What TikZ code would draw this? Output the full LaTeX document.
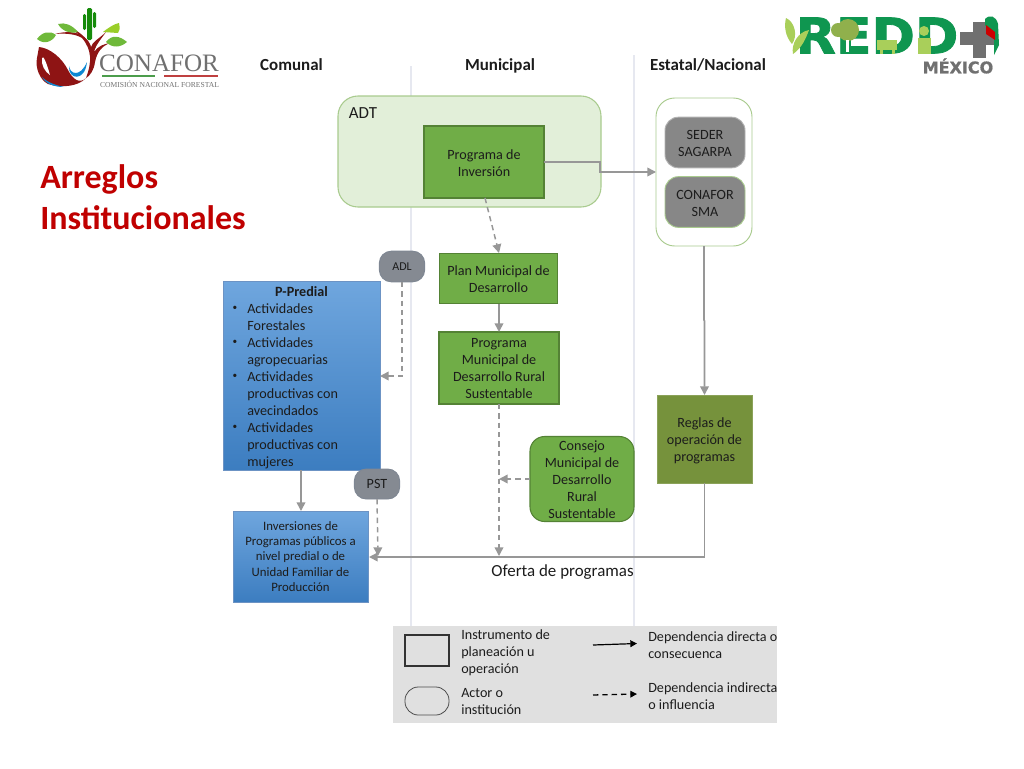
\documentclass[tikz,border=0pt]{standalone}
\usepackage{fontspec}
\setmainfont{Carlito}
\newfontfamily\logoserif{Liberation Serif}
\newfontfamily\logosans[FakeBold=1.6,FakeStretch=1.06]{DejaVu Sans Bold}
\newfontfamily\logosanb[FakeBold=1]{DejaVu Sans Bold}
\usetikzlibrary{arrows.meta,calc}
\newcommand{\lowr}[2][-1.5pt]{\raisebox{#1}[\height][\depth]{\setlength{\tabcolsep}{0pt}\begin{tabular}{c}#2\end{tabular}}}
\definecolor{grn}{HTML}{70AD47}
\definecolor{grnd}{HTML}{548235}
\definecolor{olv}{HTML}{76923C}
\definecolor{pale}{HTML}{E2EFD9}
\definecolor{paleb}{HTML}{A9CB8E}
\definecolor{actor}{HTML}{878787}
\definecolor{actorb}{HTML}{7F8793}
\definecolor{actorc}{HTML}{858A92}
\definecolor{conn}{HTML}{979797}
\definecolor{guide}{HTML}{E6E8F0}
\definecolor{legbg}{HTML}{E0E0E0}
\definecolor{rojo}{HTML}{C00000}
\definecolor{rdd}{HTML}{0F9650}
\definecolor{lim}{HTML}{A9CF5A}
\definecolor{gris}{HTML}{707070}
\definecolor{bluetop}{HTML}{6FA6DE}
\definecolor{bluebot}{HTML}{3C7DC0}
\definecolor{blueln}{HTML}{6C93C4}
\definecolor{leaf}{HTML}{6FB93A}
\definecolor{wine}{HTML}{8E1414}
\definecolor{tinta}{HTML}{1C1C1C}
\tikzset{
 x=0.75pt,y=-0.75pt,
 base/.style={inner sep=0pt,outer sep=0pt,align=center,font=\fontsize{10.6}{12.75}\selectfont,text=tinta},
 instr/.style={base,rectangle,draw=grnd,line width=.9pt,fill=grn},
 actorbox/.style={base,rectangle,rounded corners=10pt,draw=actorb,line width=.7pt,fill=actor},
 bluebox/.style={base,rectangle,draw=blueln,line width=.5pt,top color=bluetop,bottom color=bluebot},
 head/.style={font=\bfseries\fontsize{12.7}{14}\selectfont,text=tinta,inner sep=0pt,anchor=base},
 legtxt/.style={inner sep=0pt,align=left,anchor=north west,font=\fontsize{10.6}{12.75}\selectfont,text=tinta},
 solidc/.style={draw=conn,line width=1.2pt,-{Triangle[length=6.5pt,width=6.5pt]}},
 dashc/.style={draw=conn,line width=1.1pt,dash pattern=on 4pt off 3pt,-{Triangle[length=6.5pt,width=6.5pt]}},
 solidk/.style={draw=black,line width=.9pt,-{Triangle[length=5pt,width=5pt]}},
 dashk/.style={draw=black,line width=1pt,dash pattern=on 4pt off 3pt,-{Triangle[length=5pt,width=5pt]}},
}
\begin{document}
\begin{tikzpicture}
\useasboundingbox (0,0) rectangle (1024,768);
\fill[white] (0,0) rectangle (1024,768);
% guides
\draw[guide,line width=.8pt] (411,66) -- (411,626);
\draw[guide,line width=.8pt] (634,55) -- (634,626);
% CONAFOR logo
\fill[wine] (39,47) .. controls (50,48) and (62,58) .. (68,70) .. controls (73,80) and (80,84) .. (86,78) .. controls (78,87) and (60,88) .. (48,84) .. controls (40,80) and (35,68) .. (37,58) -- cycle;
\fill[white] (42,58) .. controls (43,54) and (47,64) .. (50,75) .. controls (45,72) and (41,65) .. (42,58) -- cycle;
\fill[wine] (86,78) .. controls (92,62) and (92,50) .. (82,38) .. controls (76,34) and (65,33) .. (55,34) .. controls (66,31) and (78,31) .. (85,38) .. controls (89,41) and (90,44) .. (91,47) .. controls (92,42) and (100,38) .. (106,32) .. controls (102,38) and (96,44) .. (94,52) .. controls (98,46) and (104,44) .. (110,43) .. controls (102,46) and (97,52) .. (95,62) .. controls (94,70) and (90,76) .. (86,78) -- cycle;
\draw[wine,line width=1.2pt] (70,28) .. controls (78,32) and (86,38) .. (90,46);
\fill[cyan!70!blue] (69,66) .. controls (70,74) and (80,78) .. (87,62) .. controls (85,82) and (68,80) .. (69,66) -- cycle;
\fill[cyan!70!blue] (42,77) .. controls (48,83) and (56,85) .. (64,87) .. controls (54,87) and (46,84) .. (42,77) -- cycle;
\fill[leaf] (37,39) .. controls (42,32) and (50,30) .. (56,35) .. controls (52,42) and (44,45) .. (37,39) -- cycle;
\fill[leaf] (58,24) .. controls (65,22) and (72,25) .. (78,32) .. controls (70,34) and (62,31) .. (58,24) -- cycle;
\fill[leaf] (106,42) .. controls (112,34) and (120,36) .. (127,42) .. controls (120,48) and (112,48) .. (106,42) -- cycle;
\fill[leaf!70!yellow] (103,32) .. controls (108,28) and (114,24) .. (119,23) .. controls (120,28) and (120,31) .. (118,33) -- cycle;
\fill[green!50!black!80!leaf,rounded corners=1pt] (87,8) rectangle (92,40);
\fill[green!50!black!80!leaf,rounded corners=1pt] (83,14) rectangle (86,30);
\fill[green!50!black!80!leaf,rounded corners=1pt] (93,12) rectangle (96,28);
\node[inner sep=0pt,text=gris,font=\logoserif\fontsize{18.8}{20}\selectfont] (conaforname) at (159,63) {CONAFOR};
\fill[green!45!black!70] (102,74.8) rectangle (155,76.6);
\fill[red!50!gray] (164,74.8) rectangle (218,76.6);
\node[inner sep=0pt,text=gris,font=\logoserif\fontsize{5.7}{7}\selectfont] (conaforsub) at (159.5,84.5) {COMISIÓN NACIONAL FORESTAL};
% REDD logo
\node[inner sep=0pt,text=rdd,font=\logosans\fontsize{37}{38}\selectfont] (reddname) at (877,35.5) {REDD};
\fill[lim] (786,18) .. controls (795,22) and (798,36) .. (792,44) .. controls (785,36) and (784,26) .. (786,18) -- cycle;
\fill[lim] (793,54) .. controls (802,48) and (806,38) .. (809,30) .. controls (798,32) and (791,44) .. (793,54) -- cycle;
\fill[lim!85!black] (848,30) circle[radius=11];
\fill[lim!85!black] (838,30) circle[radius=7];
\fill[white] (846,40) rectangle (849,52);
\fill[lim] (877,40) rectangle (897,50);
\fill[lim] (880,50) rectangle (883,54);
\fill[lim] (892,50) rectangle (895,54);
\fill[lim] (924,31) circle[radius=5];
\fill[lim] (918,38) rectangle (931,54);
\fill[gris] (960,32) rectangle (998,45);
\fill[gris] (973,22) rectangle (986,58);
\fill[rdd] (985,19) .. controls (990,14) and (996,16) .. (998,24) -- (999,45) -- (994,55) -- (994,38) -- (985,25) -- cycle;
\fill[red!80!black] (986,25) -- (995,32) -- (995,40) -- (986,34) -- cycle;
\node[inner sep=0pt,text=gris,font=\logosanb\fontsize{12}{13}\selectfont] (mexname) at (958,66) {MÉXICO};
% title
\node[anchor=north west,inner sep=0pt,align=left,text=rojo,font=\bfseries\fontsize{25.5}{31}\selectfont] (title) at (40,164) {Arreglos\\Institucionales};
% headers
\node[head] (hcom) at (291.5,70.5) {Comunal};
\node[head] (hmun) at (500,70.5) {Municipal};
\node[head] (hest) at (708,70.5) {Estatal/Nacional};
% ADT
\node[base,rectangle,rounded corners=15pt,draw=paleb,line width=.8pt,fill=pale,minimum width=197.25pt,minimum height=83.25pt] (adt) at (469.5,151.5) {};
\node[inner sep=0pt,anchor=west,font=\fontsize{12.7}{14}\selectfont,text=tinta] (adtl) at (348.5,113) {ADT};
\node[instr,minimum width=90pt,minimum height=54pt] (pinv) at (484,162) {\lowr[-2.25pt]{Programa de\\Inversión}};
% Estatal
\node[base,rectangle,rounded corners=14pt,draw=paleb,line width=.7pt,fill=white,minimum width=72pt,minimum height=111pt] (est) at (704,172) {};
\node[actorbox,draw=gray!60,minimum width=60pt,minimum height=38pt] (seder) at (705,142.5) {\lowr{SEDER\\SAGARPA}};
\node[actorbox,draw=paleb,minimum width=60pt,minimum height=38pt] (conafor) at (705,202) {\lowr[-2.25pt]{CONAFOR\\SMA}};
% municipal
\node[instr,line width=.8pt,minimum width=89pt,minimum height=38pt] (plan) at (498.5,278.5) {\lowr{Plan Municipal de\\Desarrollo}};
\node[instr,line width=.8pt,minimum width=90pt,minimum height=54pt] (pmun) at (499,368) {\lowr{Programa\\Municipal de\\Desarrollo Rural\\Sustentable}};
\node[base,rectangle,rounded corners=11pt,draw=grnd,line width=.8pt,fill=grn,minimum width=78pt,minimum height=63pt] (consejo) at (582,479) {\lowr{Consejo\\Municipal de\\Desarrollo\\Rural\\Sustentable}};
\node[base,rectangle,draw=olv!85!white,line width=.5pt,fill=olv,minimum width=71.5pt,minimum height=66pt] (reglas) at (704.5,439) {\lowr{Reglas de\\operación de\\programas}};
% communal
\node[bluebox,minimum width=117.75pt,minimum height=141.75pt] (pred) at (301.5,375.5) {};
\node[base,anchor=north] (predh) at (301.5,286.5) {\textbf{P-Predial}};
\node[legtxt] (predl) at (247,303.5) {Actividades\\Forestales\\Actividades\\agropecuarias\\Actividades\\productivas con\\avecindados\\Actividades\\productivas con\\mujeres};
\node[base,anchor=center,font=\fontsize{7}{8}\selectfont] (b1) at (235,308.5) {•};
\node[base,anchor=center,font=\fontsize{7}{8}\selectfont] (b2) at (235,342.5) {•};
\node[base,anchor=center,font=\fontsize{7}{8}\selectfont] (b3) at (235,376.5) {•};
\node[base,anchor=center,font=\fontsize{7}{8}\selectfont] (b4) at (235,427.5) {•};
\node[bluebox,minimum width=101.25pt,minimum height=68.25pt,font=\fontsize{9.6}{11.4}\selectfont] (inv) at (300.5,556.5) {Inversiones de\\Programas públicos a\\nivel predial o de\\Unidad Familiar de\\Producción};
\node[actorbox,rounded corners=9pt,minimum width=34pt,minimum height=23pt,fill=actorc,font=\fontsize{9}{11}\selectfont] (adl) at (402,266.5) {ADL};
\node[actorbox,rounded corners=9pt,minimum width=34pt,minimum height=22.5pt,fill=actorc] (pst) at (377,484) {PST};
% oferta
\node[inner sep=0pt,font=\fontsize{12.7}{14}\selectfont,text=tinta] (oferta) at (562.5,572.5) {Oferta de programas};
% free ends
\coordinate (c1) at (600,162);
\coordinate (c2) at (600,172);
\coordinate (c3) at (656,172);
\coordinate (d1) at (485,198);
\coordinate (d2) at (499,253);
\coordinate (e1) at (704,246);
\coordinate (e2) at (704,320);
\coordinate (e3) at (704.5,321);
\coordinate (f1) at (704.5,557);
\coordinate (f2) at (369,557);
\coordinate (g1) at (402,376);
\coordinate (g2) at (380,376);
\coordinate (h1) at (499,556);
\coordinate (h2) at (499,479);
\coordinate (i1) at (377,499);
\coordinate (i2) at (378,556);
\coordinate (j1) at (301,470);
\coordinate (j2) at (301,511);
% connectors
\draw[solidc] (pinv.east) -- (c1) -- (c2) -- (c3);
\draw[dashc] (d1) -- (d2);
\draw[solidc] (e1) -- (e2) -- (e3) -- (reglas.north);
\draw[solidc] (plan.south -| pmun.north) -- (pmun.north);
\draw[dashc] (pmun.south) -- (h1);
\draw[dashc] (consejo.west) -- (h2);
\draw[solidc] (reglas.south) -- (f1) -- (f2);
\draw[dashc] (adl.south) -- (g1) -- (g2);
\draw[solidc] (j1) -- (j2);
\draw[dashc] (i1) -- (i2);
% legend
\fill[legbg] (393,626) rectangle (777,723);
\node[base,rectangle,draw=black!80,line width=1.1pt,fill=legbg,minimum width=33pt,minimum height=23pt] (lrect) at (427,650.5) {};
\node[base,rectangle,rounded corners=10pt,draw=black!70,line width=.6pt,fill=legbg,minimum width=33pt,minimum height=21pt] (lround) at (427,701) {};
\node[legtxt] (ltxt1) at (461,629.5) {Instrumento de\\planeación u\\operación};
\node[legtxt] (ltxt2) at (461,688) {Actor o\\institución};
\node[legtxt] (ltxt3) at (648,631) {Dependencia directa o\\consecuenca};
\node[legtxt] (ltxt4) at (648,682.5) {Dependencia indirecta\\o influencia};
\coordinate (k1) at (593,645);
\coordinate (k2) at (637,643.5);
\coordinate (k3) at (593,695);
\coordinate (k4) at (637,694);
\draw[solidk] (k1) -- (k2);
\draw[dashk] (k3) -- (k4);
\end{tikzpicture}
\end{document}
